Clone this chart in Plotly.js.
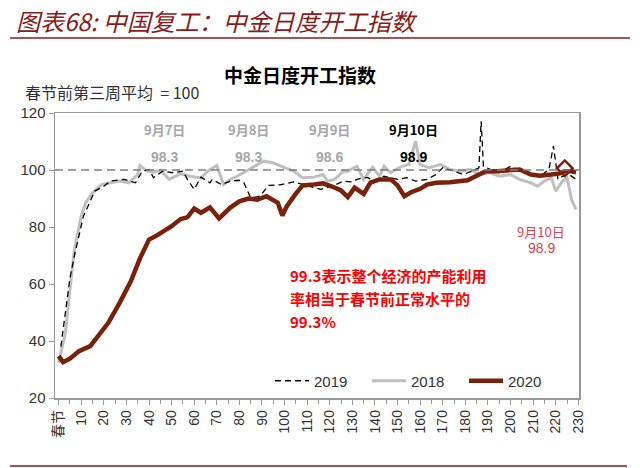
<!DOCTYPE html>
<html>
<head>
<meta charset="utf-8">
<script src="https://cdn.plot.ly/plotly-3.0.1.min.js"></script>
<style>
  html, body { margin: 0; padding: 0; background: #fff; }
  #chart { width: 640px; height: 468px; }
</style>
</head>
<body>
<div id="chart"></div>
<script>
// 春节后第N天 (x) 与 指数值 (y)，春节前第三周平均 = 100
const tickVals = [0, 10, 20, 30, 40, 50, 60, 70, 80, 90, 100, 110, 120, 130, 140, 150, 160, 170, 180, 190, 200, 210, 220, 230];
const tickText = ['春节', '10', '20', '30', '40', '50', '60', '70', '80', '90', '100', '110', '120', '130', '140', '150', '160', '170', '180', '190', '200', '210', '220', '230'];
const baseline = 100;

const days2018 = [0, 3, 5, 7, 10, 12, 15, 19, 23, 27, 31, 35, 36, 39, 42, 45, 49, 54, 58, 63, 66, 70, 73, 76, 79, 83, 85, 88, 91, 95, 100, 104, 108, 113, 117, 119, 122, 123, 126, 128, 132, 135, 139, 142, 144, 147, 148, 152, 155, 158, 160, 164, 169, 173, 178, 182, 186, 191, 195, 200, 204, 209, 212, 215, 218, 220, 223, 225, 227, 229];
const vals2018 = [32.3, 42.9, 58, 72, 83.8, 88.5, 92, 94.9, 95.5, 96.1, 95.5, 98.4, 101.6, 99.6, 99.2, 99.9, 96.7, 98.7, 97.8, 97.2, 99.6, 101.6, 94.9, 96.7, 97.8, 99.6, 100.8, 101.9, 103.1, 102.5, 100.8, 99.6, 97.3, 97.5, 98.4, 96.1, 96.7, 97.3, 99.6, 99.6, 101.3, 96.7, 101, 97.8, 101.3, 99, 99.6, 101.3, 101.9, 110.1, 101.9, 100.8, 101.9, 100.2, 99.6, 100.2, 98.4, 99, 97.8, 98.4, 96.7, 95.5, 94.3, 96.1, 97.3, 92.6, 96.1, 97.3, 89.6, 86.1];

const days2019 = [1, 3, 5, 7, 11, 16, 20, 23, 29, 34, 37, 40, 42, 46, 51, 55, 57, 60, 63, 67, 68, 72, 76, 80, 82, 85, 89, 93, 98, 104, 110, 116, 121, 126, 130, 132, 135, 137, 139, 144, 150, 154, 158, 163, 167, 170, 175, 179, 183, 186, 187, 188, 191, 195, 200, 204, 209, 213, 217, 219, 221, 223, 226, 229];
const vals2019 = [38, 50, 62, 70, 83.8, 92.6, 94.3, 96.1, 96.7, 95.5, 99.5, 100.2, 97.3, 99.6, 99, 99.6, 96.7, 93.2, 97.5, 95.5, 96.7, 94.9, 96.1, 96.4, 95.5, 90.2, 90.8, 94.6, 94.8, 95.8, 94.5, 93.2, 94.3, 96.1, 95.8, 96.7, 97.3, 97.3, 96.1, 97.8, 96.7, 97.3, 96.1, 96.7, 98.4, 100.8, 99.6, 98.4, 99.6, 100.8, 117.1, 101.3, 100.2, 99, 101.3, 99.6, 98.4, 97.8, 100.2, 108.4, 96.7, 97.8, 98.4, 96.7];

const days2020 = [0, 2, 5, 9, 14, 18, 22, 27, 32, 36, 40, 43, 46, 50, 54, 57, 60, 63, 67, 71, 76, 80, 84, 88, 92, 95, 97, 99, 101, 105, 108, 113, 117, 121, 125, 128, 131, 135, 138, 142, 147, 150, 153, 156, 160, 163, 167, 173, 181, 185, 189, 194, 200, 204, 209, 213, 218, 222, 224, 226, 229];
const vals2020 = [34.7, 32.6, 33.8, 36.4, 38.2, 42.3, 46.4, 53.4, 61, 69, 75.6, 76.8, 78.3, 80.3, 82.8, 83.4, 86.5, 85, 86.9, 83, 86.8, 89, 90, 89.6, 90.8, 89.6, 88.5, 84, 87.3, 91.7, 94.6, 94.9, 95.3, 94.2, 92.8, 90.5, 93.8, 91.6, 95.6, 96.7, 96.7, 94.6, 90.8, 92.2, 93.4, 94.9, 95.5, 95.7, 96.4, 98, 99.6, 99.6, 99.8, 100.2, 98.4, 98, 98.4, 98.8, 99.6, 99.6, 99.2];

// 9月10日 标记点
const markDay = [224];
const markVal = [100.6];

// 各年9月7日~9月10日 标注
const noteDays = [47, 84, 120, 157];
const noteDates = ['9月7日', '9月8日', '9月9日', '9月10日'];
const noteVals = ['98.3', '98.3', '98.6', '98.9'];
const noteColors = ['#A6A6A6', '#A6A6A6', '#A6A6A6', '#000000'];

const redNote = ['99.3表示整个经济的产能利用', '率相当于春节前正常水平的', '99.3%'];

const cjk = '"Noto Sans CJK SC", "Noto Sans", sans-serif';
const num = '"Liberation Sans", "Noto Sans CJK SC", sans-serif';
const darkRed = '#8B1A1A';

// plot area in px: left 55, right 579, top 113, bottom 398
const L = 55, R = 579, T = 113, B = 398;
const px = x => (x - L) / (R - L);
const py = y => (B - y) / (B - T);

const traces = [
    {
        x: days2018, y: vals2018, type: 'scatter', mode: 'lines', name: '2018',
        line: { color: '#BFBFBF', width: 3 }, legendrank: 2
    },
    {
        x: days2019, y: vals2019, type: 'scatter', mode: 'lines', name: '2019',
        line: { color: '#000000', width: 1.3, dash: '6px,4px' }, legendrank: 1
    },
    {
        x: days2020, y: vals2020, type: 'scatter', mode: 'lines', name: '2020',
        line: { color: '#7B200A', width: 4.5 }, legendrank: 3
    },
    {
        x: markDay, y: markVal, type: 'scatter', mode: 'markers', showlegend: false,
        marker: { symbol: 'diamond-open', size: 12, color: '#7B200A', line: { width: 2.5, color: '#7B200A' } }
    }
];

const annotations = [];
noteDays.forEach((d, i) => {
    annotations.push({
        x: d, y: 114.2, xref: 'x', yref: 'y', text: '<b>' + noteDates[i] + '</b>', showarrow: false,
        font: { family: cjk, size: 13, color: noteColors[i] }
    });
    annotations.push({
        x: d, y: 104.4, xref: 'x', yref: 'y', text: '<b>' + noteVals[i] + '</b>', showarrow: false,
        font: { family: num, size: 14, color: noteColors[i] }
    });
});
annotations.push({
    x: 213.5, y: 78.4, xref: 'x', yref: 'y', text: '9月10日', showarrow: false,
    font: { family: cjk, size: 13, color: '#E5404A' }
});
annotations.push({
    x: 213.5, y: 72.5, xref: 'x', yref: 'y', text: '98.9', showarrow: false,
    font: { family: num, size: 14, color: '#E5404A' }
});
redNote.forEach((t, i) => {
    annotations.push({
        x: px(288), y: py(275 + 23 * i), xref: 'paper', yref: 'paper', xanchor: 'left', yanchor: 'middle',
        text: '<b>' + t + '</b>', showarrow: false, align: 'left',
        font: { family: cjk, size: 15, color: '#FF0000' }
    });
});
annotations.push({
    x: px(14), y: py(20), xref: 'paper', yref: 'paper', xanchor: 'left', yanchor: 'middle',
    text: '图表68: 中国复工：中金日度开工指数', showarrow: false,
    font: { family: cjk, size: 24, color: darkRed, style: 'italic' }
});
annotations.push({
    x: px(23), y: py(92), xref: 'paper', yref: 'paper', xanchor: 'left', yanchor: 'middle',
    text: '春节前第三周平均  = 100', showarrow: false,
    font: { family: cjk, size: 16, color: '#333333' }
});

const shapes = [
    {
        type: 'line', xref: 'paper', yref: 'y', x0: 0, x1: 1, y0: baseline, y1: baseline,
        line: { color: '#7F7F7F', width: 1.3, dash: '8px,5px' }
    },
    {
        type: 'line', xref: 'paper', yref: 'paper', x0: px(10), x1: px(630), y0: py(38), y1: py(38),
        line: { color: darkRed, width: 1.5 }
    },
    {
        type: 'line', xref: 'paper', yref: 'paper', x0: px(10), x1: px(627), y0: py(466), y1: py(466),
        line: { color: darkRed, width: 1.5 }
    }
];

const layout = {
    width: 640, height: 468,
    margin: { l: L, r: 640 - R, t: T, b: 468 - B },
    paper_bgcolor: '#ffffff', plot_bgcolor: '#ffffff',
    title: {
        text: '<b>中金日度开工指数</b>', x: 300 / 640, xref: 'container', xanchor: 'center',
        y: 1 - 76 / 468, yref: 'container', yanchor: 'middle',
        font: { family: cjk, size: 19, color: '#000000' }
    },
    xaxis: {
        range: [-1.6, 230.3], tickmode: 'array', tickvals: tickVals, ticktext: tickText,
        tickangle: -90, ticks: 'outside', ticklen: 5, tickcolor: '#999999',
        minor: { tickmode: 'linear', tick0: 0, dtick: 5, ticks: 'outside', ticklen: 4, tickcolor: '#999999' },
        showgrid: false, zeroline: false, showline: true, mirror: true, linecolor: '#999999', linewidth: 1.5,
        tickfont: { family: num, size: 14, color: '#333333' }
    },
    yaxis: {
        range: [20, 120], dtick: 20, ticks: 'outside', ticklen: 5, tickcolor: '#999999',
        showgrid: false, zeroline: false, showline: true, mirror: true, linecolor: '#999999', linewidth: 1.5,
        tickfont: { family: num, size: 15, color: '#333333' }
    },
    showlegend: true,
    legend: {
        orientation: 'h', x: px(270), y: py(381), xanchor: 'left', yanchor: 'middle',
        bgcolor: 'rgba(0,0,0,0)', itemwidth: 34, entrywidth: 48, entrywidthmode: 'pixels',
        font: { family: num, size: 15, color: '#333333' }
    },
    annotations: annotations,
    shapes: shapes
};

Plotly.newPlot('chart', traces, layout, { displayModeBar: false, staticPlot: true });
</script>
</body>
</html>
